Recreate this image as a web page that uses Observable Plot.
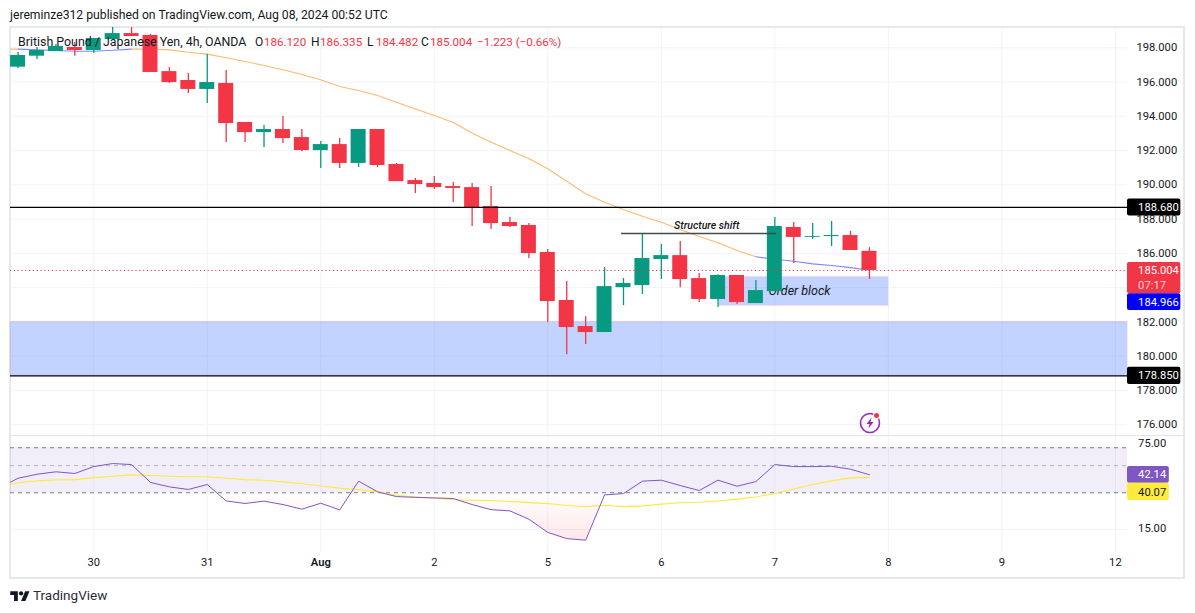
<!DOCTYPE html>
<html>
<head>
<meta charset="utf-8">
<script src="https://cdn.jsdelivr.net/npm/d3@7"></script>
<script src="https://cdn.jsdelivr.net/npm/@observablehq/plot@0.6"></script>
<style>
html,body{margin:0;padding:0;background:#fff}
#page{position:relative;width:1195px;height:613px;overflow:hidden;background:#fff;font-family:Roboto,sans-serif;color:#131722}
#page>svg,#page>.plot{position:absolute}
.t{position:absolute;white-space:nowrap;line-height:14px}
.frame{position:absolute;box-sizing:border-box;border:2px solid #e6e8ef;left:9px;top:26px;width:1176px;height:553px}
.sep{position:absolute;left:10px;width:1175px;top:435px;height:1px;background:#e0e3eb}
</style>
</head>
<body>
<div id="page">
  <div class="frame"></div>
  <div class="sep"></div>
</div>
<script>
// Candles, 4h, British Pound / Japanese Yen
const opens  = [196.87,197.51,197.78,198.02,197.84,198.48,198.83,198.72,196.61,196.09,195.57,195.92,193.64,193.05,193.23,192.76,192.00,192.35,191.25,193.23,191.19,190.25,190.08,189.90,189.84,188.74,187.80,187.63,186.05,183.25,181.73,181.38,184.00,184.12,185.64,185.87,184.53,183.31,184.71,183.07,183.77,187.51,186.93,186.98,187.04,186.12];
const highs  = [197.73,198.02,198.19,198.31,198.54,199.18,199.18,198.78,196.85,196.50,197.61,196.67,193.64,193.46,193.99,193.23,192.53,192.70,193.23,193.23,191.25,190.37,190.49,190.14,190.08,189.90,188.09,187.74,186.22,184.36,182.31,185.17,184.53,187.16,186.52,186.69,184.82,184.76,184.71,184.41,188.09,187.80,187.74,187.86,187.28,186.335];
const lows   = [196.79,197.32,197.78,197.51,197.68,198.48,198.66,196.56,195.92,195.33,194.75,192.47,192.47,192.18,192.41,191.93,190.95,190.95,191.01,191.01,190.19,189.49,189.73,188.97,187.57,187.39,187.51,185.70,181.96,180.09,180.68,181.38,182.95,183.60,184.47,184.00,183.13,182.84,183.01,183.07,183.77,185.41,186.81,186.40,186.17,184.482];
const closes = [197.55,197.84,198.08,197.84,198.54,198.83,198.66,196.56,195.97,195.57,195.97,193.58,193.05,193.23,192.70,192.00,192.35,191.25,193.23,191.13,190.19,190.02,189.84,189.79,188.68,187.74,187.57,185.99,183.19,181.67,181.38,184.06,184.24,185.70,185.87,184.47,183.31,184.71,183.13,183.83,187.57,186.93,186.98,187.04,186.17,185.004];

// Moving average, starts one bar earlier than the candles
const emaValues = [197.935,197.92,197.88,197.84,197.80,197.80,197.86,197.92,197.93,197.88,197.74,197.63,197.42,197.20,196.97,196.72,196.44,196.13,195.74,195.51,195.22,194.82,194.43,194.05,193.64,193.03,192.49,192.00,191.52,190.94,190.21,189.48,188.99,188.56,188.17,187.82,187.39,186.98,186.62,186.17,185.80,185.66,185.54,185.39,185.29,185.17,185.02];
const emaRising = [0,1,1,1,1,1,1,0,0,0,0,0,0,0,0,0,0,0,0,0,0,0,0,0,0,0,0,0,0,0,0,0,0,0,0,0,0,0,0,0,1,1,1,1,1,1,1];

// RSI and its average, starts one bar earlier than the candles
const rsiValues = [32.9,39.4,42.5,44.5,43.1,49.1,52.0,51.0,36.4,33.5,31.9,35.0,25.7,24.5,25.6,24.0,22.0,24.6,21.7,37.3,30.5,27.9,27.5,27.2,26.9,24.0,21.8,21.3,18.2,14.2,12.64,12.26,28.8,29.5,37.3,38.0,34.35,31.27,38.0,33.9,37.0,51.0,49.1,49.1,49.4,46.7,42.14];
const rsiMa = [33.5,36.2,37.5,38.2,38.4,39.9,40.9,42.0,41.5,40.9,40.5,40.5,39.4,38.4,38.0,36.8,35.5,34.1,32.7,31.9,30.5,28.6,27.7,27.0,26.3,26.0,25.9,25.4,24.9,24.5,23.6,23.0,23.7,23.1,23.4,24.2,24.8,25.1,25.7,26.6,27.7,29.6,32.2,35.0,37.5,39.7,40.07];

const priceTicks = [176,178,180,182,184,186,188,190,192,194,196,198];
const priceTickLabels = [176,178,180,182,186,188,190,192,194,196,198];
const rsiTicks = [15,75];
const dayTicks  = [4,10,16,22,28,34,40,46,52,58];
const dayLabels = ["30","31","Aug","2","5","6","7","8","9","12"];

const GREEN="#089981", RED="#f23645", GRID="#f0f3fa", INK="#131722";
const X_DOMAIN=[-0.40,58.64], LABEL_X=59.2, BOX_L=58.64, BOX_R=61.46;
const FONT="Roboto, sans-serif", TICK=11.2;

const candles = opens.map((o,i)=>({i,o,h:highs[i],l:lows[i],c:closes[i],col:closes[i]>=o?GREEN:RED}));
const ema = emaValues.map((v,k)=>({i:k-1,v,col:emaRising[k]?"#8585fb":"#ffb970"}));
const rsi = rsiValues.map((v,k)=>({i:k-1,v,m:rsiMa[k]}));
const dayLabel = new Map(dayTicks.map((t,k)=>[t,dayLabels[k]]));
const one=[{}];

const pricePlot = Plot.plot({
  width:1195,height:408,marginLeft:10,marginRight:68,marginTop:0,marginBottom:0,
  style:{background:"transparent",overflow:"visible",fontFamily:FONT},
  x:{domain:X_DOMAIN,axis:null},
  y:{domain:[176,198],range:[397.2,20.3],axis:null},
  marks:[
    Plot.gridX(dayTicks,{stroke:GRID,strokeOpacity:1,strokeWidth:1}),
    Plot.gridY(priceTicks,{stroke:GRID,strokeOpacity:1,strokeWidth:1}),
    Plot.rect(one,{x1:X_DOMAIN[0],x2:X_DOMAIN[1],y1:182,y2:178.85,fill:"#2962ff",fillOpacity:0.28,stroke:"#e1bee7",strokeOpacity:0.6}),
    Plot.rect(one,{x1:37.07,x2:46,y1:184.61,y2:182.95,fill:"#2962ff",fillOpacity:0.28,stroke:"#e1bee7",strokeOpacity:0.6}),
    Plot.line(ema,{x:"i",y:"v",z:null,stroke:"col",strokeWidth:1.1,clip:true}),
    Plot.text(one,{x:41.3,y:183.83,text:()=>"Order block",fontStyle:"italic",fontSize:12.5,fill:INK,letterSpacing:"0.8px"}),
    Plot.ruleX(candles,{x:"i",y1:"l",y2:"h",stroke:"col",strokeWidth:1.3,clip:true}),
    Plot.rect(candles,{x1:d=>d.i-0.396,x2:d=>d.i+0.396,y1:"o",y2:"c",fill:"col",clip:true}),
    Plot.ruleY([188.68,178.85],{stroke:"#000",strokeWidth:1.2}),
    Plot.ruleY([185.004],{stroke:RED,strokeWidth:1,strokeDasharray:"1.2,2.6"}),
    Plot.ruleY(one,{x1:31.9,x2:40.1,y:187.16,stroke:"#4a4a4a",strokeWidth:1.5}),
    Plot.text(one,{x:36.4,y:187.63,text:()=>"Structure shift",fontStyle:"italic",fontSize:10.5,fontWeight:500,fill:INK,letterSpacing:"0.9px"}),
    Plot.axisY(priceTickLabels,{anchor:"right",tickSize:0,tickPadding:9,tickFormat:d=>d.toFixed(3),fontSize:TICK,fill:INK,label:null}),
    Plot.rect(one,{x1:BOX_L,x2:BOX_R,y1:189.18,y2:188.18,fill:"#000",rx:2}),
    Plot.text(one,{x:LABEL_X,y:188.68,text:()=>"188.680",textAnchor:"start",fill:"#fff",fontSize:TICK}),
    Plot.rect(one,{x1:BOX_L,x2:BOX_R,y1:179.35,y2:178.35,fill:"#000",rx:2}),
    Plot.text(one,{x:LABEL_X,y:178.85,text:()=>"178.850",textAnchor:"start",fill:"#fff",fontSize:TICK}),
    Plot.rect(one,{x1:BOX_L,x2:BOX_R,y1:185.466,y2:183.64,fill:RED,rx:2}),
    Plot.text(one,{x:LABEL_X,y:185.004,text:()=>"185.004",textAnchor:"start",fill:"#fff",fontSize:TICK}),
    Plot.text(one,{x:LABEL_X,y:184.14,text:()=>"07:17",textAnchor:"start",fill:"#fff",fillOpacity:0.8,fontSize:TICK}),
    Plot.rect(one,{x1:BOX_L,x2:BOX_R,y1:185.45,y2:184.47,dy:31,fill:"#0000ff",rx:2}),
    Plot.text(one,{x:LABEL_X,y:184.966,dy:31,text:()=>"184.966",textAnchor:"start",fill:"#fff",fontSize:TICK})
  ]
});
pricePlot.style.left="0px";pricePlot.style.top="27px";
document.getElementById("page").appendChild(pricePlot);

const rsiFill = rsi.map(d=>({i:d.i,v:Math.min(d.v,30)}));
const gradient = () => {
  const s=d3.create("svg:defs");
  const g=s.append("linearGradient").attr("id","osGrad").attr("x1",0).attr("x2",0).attr("y1",0).attr("y2",1);
  g.append("stop").attr("offset","0%").attr("stop-color",RED).attr("stop-opacity",0);
  g.append("stop").attr("offset","100%").attr("stop-color",RED).attr("stop-opacity",0.12);
  return s.node();
};
const rsiPlot = Plot.plot({
  width:1195,height:141,marginLeft:10,marginRight:68,marginTop:0,marginBottom:25,
  style:{background:"transparent",overflow:"visible",fontFamily:FONT},
  x:{domain:X_DOMAIN,axis:null},
  y:{type:"log",domain:[15,75],range:[93,7.6],axis:null},
  marks:[
    gradient,
    Plot.gridX(dayTicks,{stroke:GRID,strokeOpacity:1,strokeWidth:1}),
    Plot.ruleY(rsiTicks,{stroke:GRID,strokeWidth:1}),
    Plot.rect(one,{x1:X_DOMAIN[0],x2:X_DOMAIN[1],y1:30,y2:70,fill:"#7e57c2",fillOpacity:0.1}),
    Plot.areaY(rsiFill,{x:"i",y1:()=>30,y2:"v",fill:"url(#osGrad)",clip:true}),
    Plot.ruleY([30,70],{stroke:"#787b86",strokeWidth:1,strokeDasharray:"4,4"}),
    Plot.ruleY([50],{stroke:"#787b86",strokeOpacity:0.5,strokeWidth:1,strokeDasharray:"4,4"}),
    Plot.line(rsi,{x:"i",y:"m",stroke:"#ffe93b",strokeWidth:1.1,clip:true}),
    Plot.line(rsi,{x:"i",y:"v",stroke:"#7e57c2",strokeWidth:1,clip:true}),
    Plot.text(rsiTicks,{x:LABEL_X,y:d=>d,dy:-1,text:d=>d.toFixed(2),textAnchor:"start",fontSize:TICK,fill:INK}),
    Plot.rect(one,{x1:BOX_L,x2:60.85,y1:49.1,y2:35.9,fill:"#7e57c2",rx:2}),
    Plot.text(one,{x:LABEL_X,y:42.14,text:()=>"42.14",textAnchor:"start",fill:"#fff",fontSize:TICK}),
    Plot.rect(one,{x1:BOX_L,x2:60.85,y1:35.9,y2:25.9,fill:"#ffeb3b",rx:2}),
    Plot.text(one,{x:LABEL_X,y:40.07,dy:15,text:()=>"40.07",textAnchor:"start",fill:INK,fontSize:TICK}),
    Plot.axisX(dayTicks.filter(t=>dayLabel.get(t)!=="Aug"),{anchor:"bottom",tickSize:0,tickPadding:6,tickFormat:t=>dayLabel.get(t),fontSize:TICK,fill:INK,label:null}),
    Plot.axisX(dayTicks.filter(t=>dayLabel.get(t)==="Aug"),{anchor:"bottom",tickSize:0,tickPadding:6,tickFormat:t=>dayLabel.get(t),fontSize:TICK,fontWeight:600,fill:INK,label:null})
  ]
});
rsiPlot.style.left="0px";rsiPlot.style.top="436px";
document.getElementById("page").appendChild(rsiPlot);

// Title, legend and footer text
const page=d3.select("#page");
function put(text,x,y,size,color,weight){
  page.append("div").attr("class","t").text(text)
    .style("left",x+"px").style("top",(y-7)+"px").style("font-size",size+"px").style("color",color).style("font-weight",weight||400);
}
put("jereminze312 published on TradingView.com, Aug 08, 2024 00:52 UTC",10,15,12.2,INK);
put("British Pound / Japanese Yen, 4h, OANDA",18,42,12.4,INK);
const legendKeys=["O","H","L","C"];
const legendVals=["186.120","186.335","184.482","185.004"];
const legendKeyX=[255,311,367,421];
legendKeys.forEach((k,i)=>{
  put(k,legendKeyX[i],42,12,INK);
  put(legendVals[i],legendKeyX[i]+9,42,11.6,RED);
});
put("\u22121.223 (\u22120.66%)",477,42,11.6,RED);
put("TradingView",33,595,13.5,"#2a2e39");

const icons=`<svg style="left:10px;top:589px" width="20" height="13" viewBox="0 0 36 24"><path fill="#131722" d="M14 22H7V11H0V4h14v18zM28 22h-8l7.5-18h8L28 22z"/><circle fill="#131722" cx="20" cy="8" r="4"/></svg>
<svg style="left:858px;top:411px" width="24" height="24" viewBox="0 0 24 24"><circle cx="12" cy="12" r="9.5" fill="none" stroke="#9c27b0" stroke-width="1.6"/><path d="M13.5 6.5L8.5 13h3l-1 4.5 5-6.5h-3z" fill="#9c27b0"/><circle cx="18.5" cy="4.5" r="3.6" fill="#fff"/><circle cx="18.5" cy="4.5" r="2.5" fill="#f23645"/></svg>`;
document.getElementById("page").insertAdjacentHTML("beforeend",icons);
</script>
</body>
</html>
